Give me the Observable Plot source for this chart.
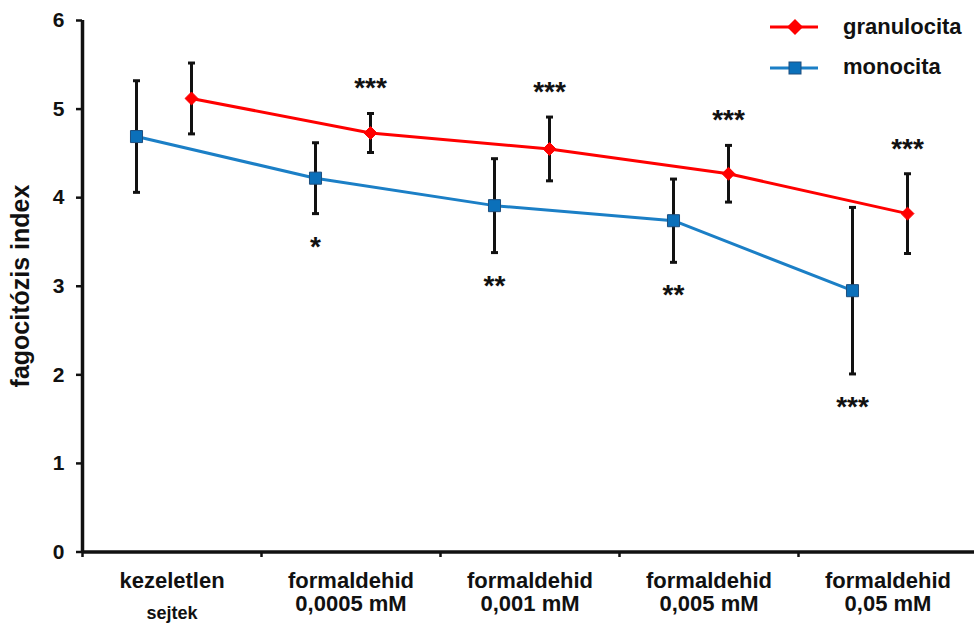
<!DOCTYPE html>
<html>
<head>
<meta charset="utf-8">
<script src="https://cdn.jsdelivr.net/npm/d3@7"></script>
<script src="https://cdn.jsdelivr.net/npm/@observablehq/plot@0.6"></script>
<style>
  body { margin: 0; background: #fff; }
  #wrap { position: relative; width: 974px; height: 623px; font-family: "Liberation Sans", Arial, sans-serif; font-weight: bold; color: #111; }
  .legend { position: absolute; left: 768px; top: 10px; }
  .legend .row { position: absolute; left: 0; height: 30px; white-space: nowrap; }
  .legend svg { position: absolute; left: 0; top: 0; }
  .legend span { position: absolute; left: 75px; top: 1px; font-size: 22px; line-height: 24px; }
</style>
</head>
<body>
<div id="wrap"></div>
<script>
// ---- data ----
const categories = ["kezeletlen sejtek", "formaldehid 0,0005 mM", "formaldehid 0,001 mM", "formaldehid 0,005 mM", "formaldehid 0,05 mM"];
const labelTop = ["kezeletlen", "formaldehid", "formaldehid", "formaldehid", "formaldehid"];
const labelBottom = ["sejtek", "0,0005 mM", "0,001 mM", "0,005 mM", "0,05 mM"];
const granulocita = [5.12, 4.73, 4.55, 4.27, 3.82];
const granulocitaSD = [0.40, 0.22, 0.36, 0.32, 0.45];
const monocita = [4.69, 4.22, 3.91, 3.74, 2.95];
const monocitaSD = [0.63, 0.40, 0.53, 0.47, 0.94];
const granulocitaSig = ["", "***", "***", "***", "***"];
const monocitaSig = ["", "*", "**", "**", "***"];
const yTicks = [0, 1, 2, 3, 4, 5, 6];
const seriesNames = ["granulocita", "monocita"];

// ---- table ----
const rows = categories.map((c, i) => ({
  pos: i + 0.5, cat: c, top: labelTop[i], bottom: labelBottom[i],
  g: granulocita[i], gsd: granulocitaSD[i], gs: granulocitaSig[i],
  m: monocita[i], msd: monocitaSD[i], ms: monocitaSig[i]
}));
const boundaries = categories.map((c, i) => i);

const RED = "#ff0000";
const BLUE = "#1b7fc6";
const BLUE_FILL = "#0b70ba";
const BLUE_EDGE = "#1e4f7e";
const GDX = 19.5, MDX = -35.5;

const cap = { draw(ctx, size) { const r = Math.sqrt(size / Math.PI); ctx.moveTo(-r, 0); ctx.lineTo(r, 0); } };

const errBars = (key, sd, dx) => [
  Plot.ruleX(rows, { x: "pos", y1: d => d[key] - d[sd], y2: d => d[key] + d[sd], dx, stroke: "#111", strokeWidth: 3 }),
  Plot.dot(rows, { x: "pos", y: d => d[key] + d[sd], dx, symbol: cap, r: 3.5, fill: "none", stroke: "#111", strokeWidth: 3 }),
  Plot.dot(rows, { x: "pos", y: d => d[key] - d[sd], dx, symbol: cap, r: 3.5, fill: "none", stroke: "#111", strokeWidth: 3 })
];

const chart = Plot.plot({
  width: 974,
  height: 623,
  marginTop: 20,
  marginBottom: 72,
  marginLeft: 82,
  marginRight: 0,
  style: { fontFamily: '"Liberation Sans", Arial, sans-serif', fontWeight: "bold", background: "white", color: "#111", overflow: "visible" },
  x: { domain: [0, 5], range: [82, 977] },
  y: { domain: [0, 6], range: [551.5, 20] },
  marks: [
    Plot.axisY({ ticks: yTicks, tickSize: 6, tickPadding: 12, fontSize: 21, strokeWidth: 2.5, label: null, tickFormat: d => String(d) }),
    Plot.axisX({ ticks: boundaries, tickSize: 6, strokeWidth: 2.5, label: null, tickFormat: () => "" }),
    Plot.ruleY([0], { strokeWidth: 3.5, stroke: "#111" }),
    Plot.ruleX([0], { strokeWidth: 3.5, stroke: "#111" }),
    // category labels
    Plot.text(rows, { x: "pos", text: "top", frameAnchor: "bottom", lineAnchor: "bottom", dy: 36, fontSize: 22 }),
    Plot.text(rows.slice(0, 1), { x: "pos", text: "bottom", frameAnchor: "bottom", lineAnchor: "bottom", dy: 67, fontSize: 18 }),
    Plot.text(rows.slice(1), { x: "pos", text: "bottom", frameAnchor: "bottom", lineAnchor: "bottom", dy: 59, fontSize: 22 }),
    // y label
    Plot.text(["fagocitózis index"], { text: d => d, frameAnchor: "left", textAnchor: "middle", rotate: -90, dx: -62, fontSize: 25 }),
    // error bars
    ...errBars("m", "msd", MDX),
    ...errBars("g", "gsd", GDX),
    // lines
    Plot.line(rows, { x: "pos", y: "m", dx: MDX, stroke: BLUE, strokeWidth: 3 }),
    Plot.line(rows, { x: "pos", y: "g", dx: GDX, stroke: RED, strokeWidth: 3 }),
    // markers
    Plot.dot(rows, { x: "pos", y: "m", dx: MDX, symbol: "square", r: 6.8, fill: BLUE_FILL, stroke: BLUE_EDGE, strokeWidth: 1 }),
    Plot.dot(rows, { x: "pos", y: "g", dx: GDX, symbol: "diamond2", r: 5.8, fill: RED, stroke: RED, strokeWidth: 1 }),
    // significance
    Plot.text(rows, { x: "pos", y: d => d.g + d.gsd, text: "gs", dx: GDX, dy: -25, fontSize: 28, lineAnchor: "middle" }),
    Plot.text(rows, { x: "pos", y: d => d.m - d.msd, text: "ms", dx: MDX, dy: 33, fontSize: 28, lineAnchor: "middle" })
  ]
});

const wrap = document.getElementById("wrap");
wrap.appendChild(chart);

// legend overlay
const legend = document.createElement("div");
legend.className = "legend";
legend.innerHTML = `
  <div class="row" style="top:4px">
    <svg width="56" height="28"><line x1="2" y1="13" x2="50" y2="13" stroke="${RED}" stroke-width="3"/>
      <path d="M27,5 L35,13 L27,21 L19,13 Z" fill="${RED}"/></svg>
    <span>${seriesNames[0]}</span>
  </div>
  <div class="row" style="top:44px">
    <svg width="56" height="28"><line x1="2" y1="14" x2="50" y2="14" stroke="${BLUE}" stroke-width="3"/>
      <rect x="21" y="8" width="12" height="12" fill="${BLUE_FILL}" stroke="${BLUE_EDGE}" stroke-width="1"/></svg>
    <span>${seriesNames[1]}</span>
  </div>`;
wrap.appendChild(legend);
</script>
</body>
</html>
